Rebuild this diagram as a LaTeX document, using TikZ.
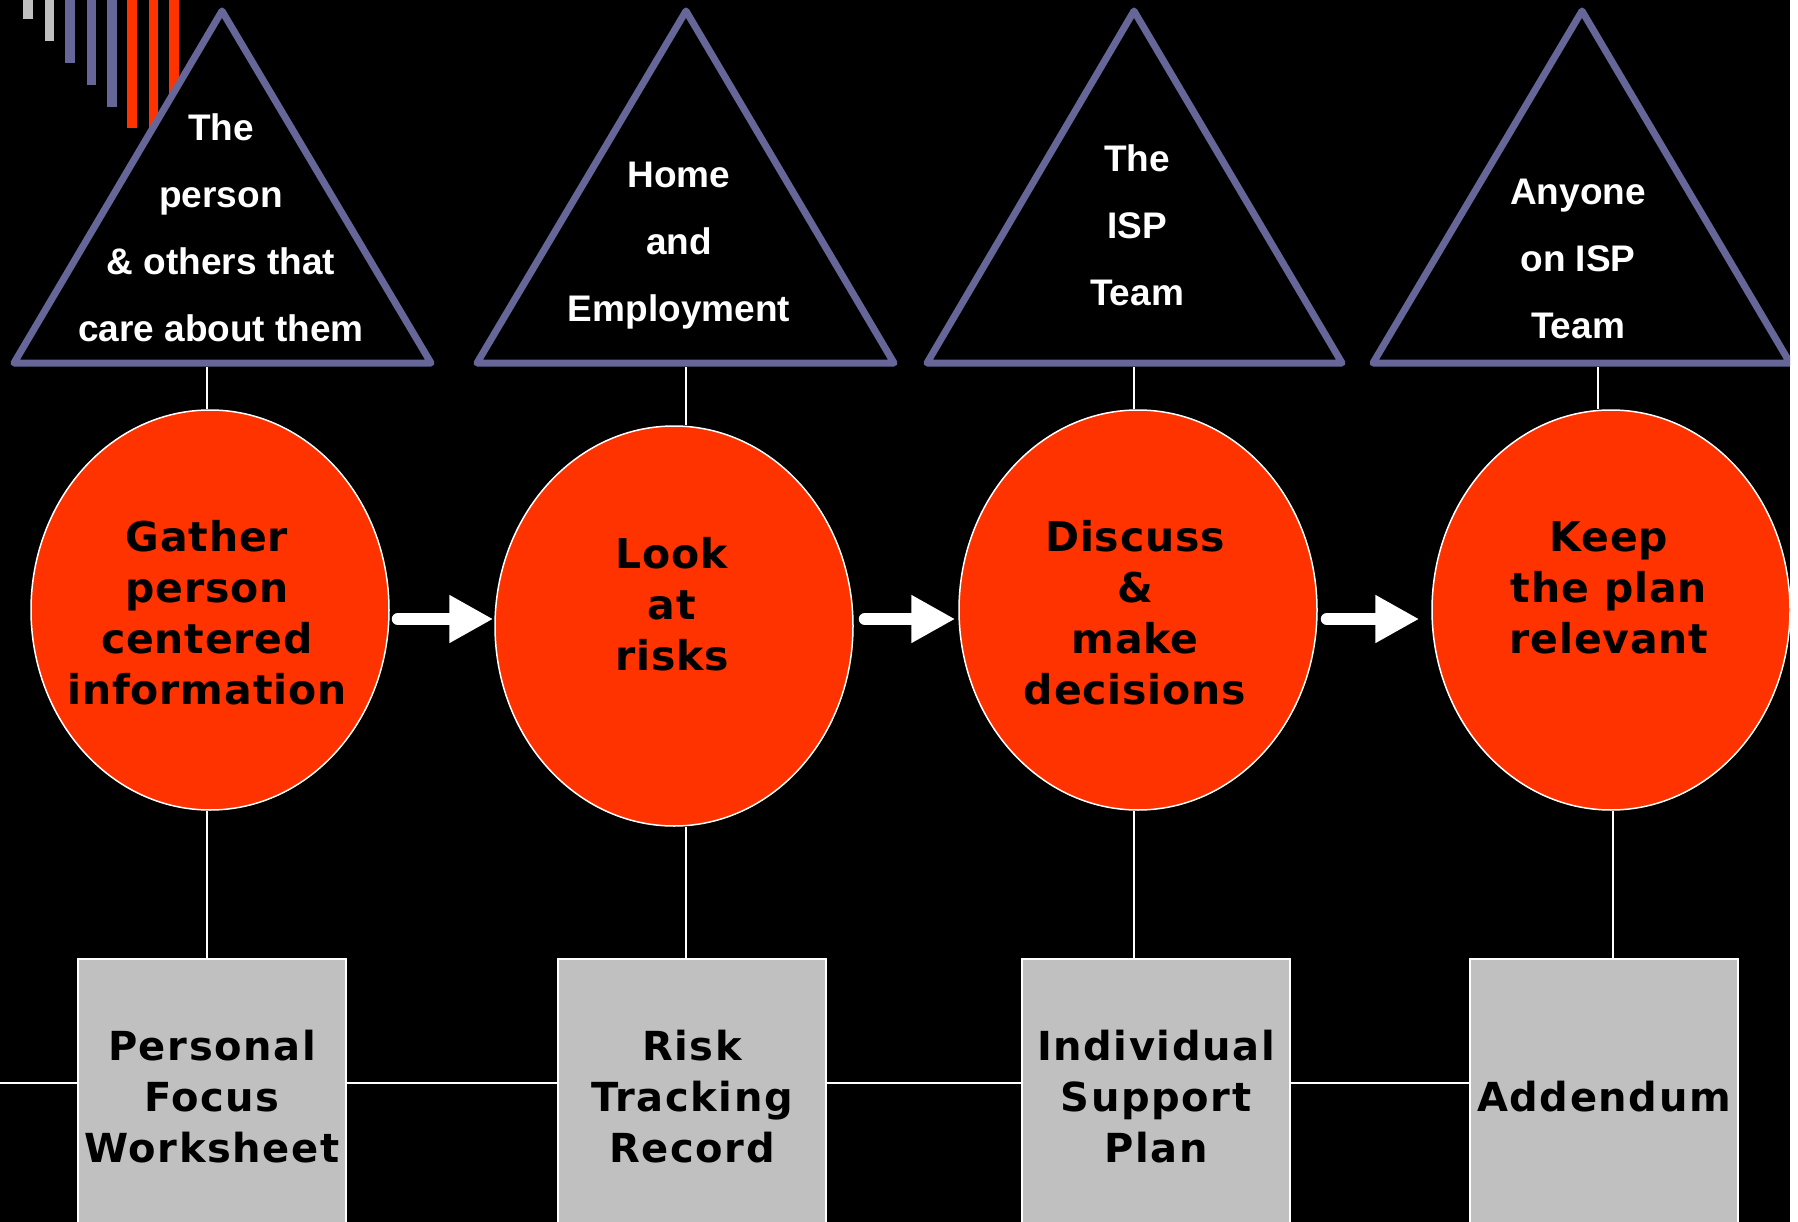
\documentclass[tikz,border=0pt]{standalone}
\usepackage{fontspec}
\usetikzlibrary{shapes.geometric,arrows.meta,calc}
\newfontfamily\peakfont{Liberation Sans}
\newfontfamily\stepfont{DejaVu Sans}[LetterSpace=2]
\newfontfamily\formfont{DejaVu Sans}[LetterSpace=4]
\definecolor{ispred}{HTML}{FF3300}
\definecolor{isppurple}{HTML}{666699}
\definecolor{ispgrey}{HTML}{C0C0C0}
\tikzset{
  peak/.style={draw=isppurple, line width=7pt, line join=round, fill=black},
  peaktext/.style={text=white, align=center, inner sep=0pt,
    font=\peakfont\bfseries\fontsize{37}{67}\selectfont},
  blob/.style={ellipse, draw=white, line width=1.5pt, fill=ispred,
    minimum width=358pt, minimum height=400pt, inner sep=0pt},
  blobtext/.style={text=black, align=center, inner sep=0pt,
    font=\stepfont\bfseries\fontsize{41}{51}\selectfont},
  form/.style={draw=white, line width=1.5pt, fill=ispgrey, align=center,
    minimum width=268pt, minimum height=276pt, inner sep=0pt,
    font=\formfont\bfseries\fontsize{40}{51}\selectfont},
  link/.style={white, line width=1.5pt},
  flow/.style={white, line width=12pt, line cap=round,
    -{Triangle[length=44pt,width=45pt]}}
}

\begin{document}
\begin{tikzpicture}[x=1pt,y=-1pt]
		%%%%% FRAME %%%%%
		\useasboundingbox (0,0) rectangle (1798,1222);
		\clip (0,0) rectangle (1790,1222);
		\fill[black] (0,0) rectangle (1790,1222);
		
		%%%%% STRIPES %%%%%
		\fill[ispgrey] (23,0) rectangle (33,19);
		\fill[ispgrey] (45,0) rectangle (54,41);
		\fill[isppurple] (65,0) rectangle (75,63);
		\fill[isppurple] (87,0) rectangle (96,85);
		\fill[isppurple] (107,0) rectangle (117,107);
		\fill[ispred] (127,0) rectangle (137,128);
		\fill[ispred] (149,0) rectangle (158,150);
		\fill[ispred] (169,0) rectangle (179,172);
		
		%%%%% TRIANGLES %%%%%
		\draw[peak] (14,363) -- (222,11) -- (431,363) -- cycle;
		\draw[peak] (477,363) -- (686,11) -- (894,363) -- cycle;
		\draw[peak] (927,363) -- (1134,11) -- (1342,363) -- cycle;
		\draw[peak] (1373,363) -- (1582,11) -- (1790,363) -- cycle;
		
		\node[peaktext] (p1) at (221,228) {The\\person\\\& others that\\care about them};
		\node[peaktext] (p2) at (679,246) {Home\\and\\Employment};
		\node[peaktext] (p3) at (1137,225) {The\\ISP\\Team};
		\node[peaktext] (p4) at (1578,259) {Anyone\\on ISP\\Team};
		
		\coordinate (p1b) at (207,367);
		\coordinate (p2b) at (686,367);
		\coordinate (p3b) at (1134,367);
		\coordinate (p4b) at (1598,367);
		
		%%%%% CIRCLES %%%%%
		\node[blob] (c1) at (210,610) {};
		\node[blob] (c2) at (674,626) {};
		\node[blob] (c3) at (1138,610) {};
		\node[blob] (c4) at (1611,610) {};
		
		\node[blobtext] (c1t) at (207,613) {Gather\\person\\centered\\information};
		\node[blobtext] (c2t) at (672,604) {Look\\at\\risks};
		\node[blobtext] (c3t) at (1135,613) {Discuss\\\&\\make\\decisions};
		\node[blobtext] (c4t) at (1609,588) {Keep\\the plan\\relevant};
		
		\draw[link] (p1b) -- (p1b |- c1.north);
		\draw[link] (p2b) -- (p2b |- c2.north);
		\draw[link] (p3b) -- (p3b |- c3.north);
		\draw[link] (p4b) -- (p4b |- c4.north);
		
		\draw[flow, shorten <=8pt, shorten >=1pt] (c1.east |- 0,619) -- (c2.west |- 0,619);
		\draw[flow, shorten <=11pt, shorten >=3pt] (c2.east |- 0,619) -- (c3.west |- 0,619);
		\draw[flow, shorten <=9pt, shorten >=12pt] (c3.east |- 0,619) -- (c4.west |- 0,619);
		
		%%%%% FORMS %%%%%
		\node[form] (b1) at (212,1097) {Personal\\Focus\\Worksheet};
		\node[form] (b2) at (692,1097) {Risk\\Tracking\\Record};
		\node[form] (b3) at (1156,1097) {Individual\\Support\\Plan};
		\node[form] (b4) at (1604,1097) {Addendum};
		
		\draw[link] (p1b |- c1.south) -- (p1b |- b1.north);
		\draw[link] (p2b |- c2.south) -- (p2b |- b2.north);
		\draw[link] (p3b |- c3.south) -- (p3b |- b3.north);
		\draw[link] (1613,0 |- c4.south) -- (1613,0 |- b4.north);
		
		\coordinate (rail) at (0,1083);
		\draw[link] (rail) -- (rail -| b1.west);
		\draw[link] (b1.east |- rail) -- (b2.west |- rail);
		\draw[link] (b2.east |- rail) -- (b3.west |- rail);
		\draw[link] (b3.east |- rail) -- (b4.west |- rail);
		%%%%% END %%%%%
	\end{tikzpicture}
\end{document}
